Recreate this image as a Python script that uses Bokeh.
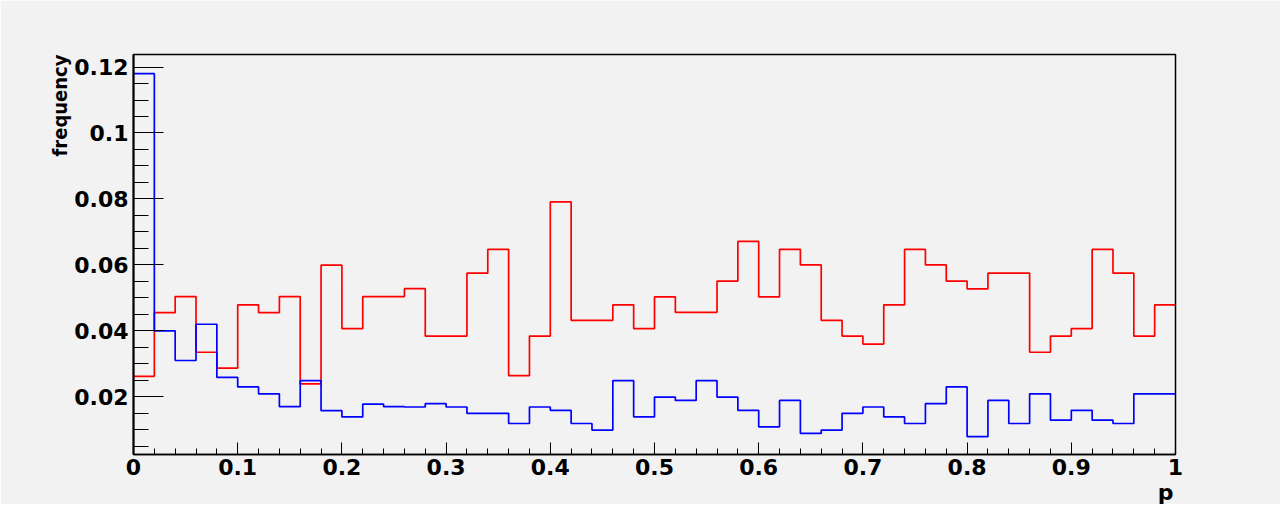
import numpy as np
from bokeh.plotting import figure
from bokeh.models import FixedTicker, Range1d, Title
from bokeh.embed import file_html
from bokeh.resources import INLINE

# ---- data ----
bin_width = 0.02
red_values = [0.0262, 0.0455, 0.0504, 0.0335, 0.0287, 0.0479, 0.0455, 0.0504, 0.0239, 0.0599,
              0.0407, 0.0504, 0.0504, 0.0528, 0.0384, 0.0384, 0.0575, 0.0647, 0.0264, 0.0384,
              0.0791, 0.0432, 0.0432, 0.0479, 0.0407, 0.0503, 0.0456, 0.0456, 0.0551, 0.0671,
              0.0503, 0.0647, 0.0600, 0.0432, 0.0384, 0.0360, 0.0479, 0.0647, 0.0600, 0.0551,
              0.0527, 0.0575, 0.0575, 0.0335, 0.0384, 0.0407, 0.0647, 0.0575, 0.0384, 0.0479]
blue_values = [0.1180, 0.0400, 0.0310, 0.0420, 0.0259, 0.0230, 0.0209, 0.0170, 0.0249, 0.0158,
               0.0139, 0.0178, 0.0170, 0.0169, 0.0179, 0.0169, 0.0150, 0.0150, 0.0119, 0.0169,
               0.0159, 0.0119, 0.0099, 0.0249, 0.0139, 0.0199, 0.0189, 0.0249, 0.0199, 0.0159,
               0.0109, 0.0189, 0.0089, 0.0099, 0.0150, 0.0169, 0.0139, 0.0119, 0.0179, 0.0230,
               0.0079, 0.0189, 0.0119, 0.0209, 0.0129, 0.0159, 0.0129, 0.0119, 0.0209, 0.0209]
x_ticks = [0.0, 0.1, 0.2, 0.3, 0.4, 0.5, 0.6, 0.7, 0.8, 0.9, 1.0]
x_tick_labels = ["0", "0.1", "0.2", "0.3", "0.4", "0.5", "0.6", "0.7", "0.8", "0.9", "1"]
y_ticks = [0.02, 0.04, 0.06, 0.08, 0.1, 0.12]
y_tick_labels = ["0.02", "0.04", "0.06", "0.08", "0.1", "0.12"]
x_title = "p"
y_title = "frequency"

nbins = len(red_values)
edges = np.arange(nbins + 1) * bin_width

BG = "#f2f2f2"
p = figure(width=1280, height=504, output_backend="svg", toolbar_location=None,
           x_range=Range1d(0, 1), y_range=Range1d(0.0025, 0.1238),
           min_border_left=133, min_border_right=105, min_border_top=54, min_border_bottom=41)
p.background_fill_color = BG
p.border_fill_color = BG
p.outline_line_color = "black"
p.outline_line_width = 1.5
p.grid.visible = False

# histograms as step outlines
p.step(edges, list(red_values) + [red_values[-1]], mode="after", line_color="#ff0000", line_width=1.7)
p.step(edges, list(blue_values) + [blue_values[-1]], mode="after", line_color="#0000ff", line_width=1.7)

FONT = "DejaVu Sans"
xa = p.xaxis[0]
xa.ticker = FixedTicker(ticks=x_ticks, minor_ticks=list(np.round(np.arange(0, 1.0001, bin_width), 4)))
xa.major_label_overrides = {t: l for t, l in zip(x_ticks, x_tick_labels)}
xa.major_tick_in = 12
xa.major_tick_out = 0
xa.minor_tick_in = 6
xa.minor_tick_out = 0
xa.axis_line_width = 1.5
xa.major_label_text_font = FONT
xa.major_label_text_font_style = "bold"
xa.major_label_text_font_size = "22px"
xa.major_label_text_color = "black"
xa.major_label_standoff = 4

ya = p.yaxis[0]
ya.ticker = FixedTicker(ticks=y_ticks, minor_ticks=list(np.round(np.arange(0.005, 0.1201, 0.005), 4)))
ya.major_label_overrides = {t: l for t, l in zip(y_ticks, y_tick_labels)}
ya.major_tick_in = 30
ya.major_tick_out = 0
ya.minor_tick_in = 15
ya.minor_tick_out = 0
ya.axis_line_width = 2
ya.major_label_text_font = FONT
ya.major_label_text_font_style = "bold"
ya.major_label_text_font_size = "22px"
ya.major_label_text_color = "black"
ya.major_label_standoff = 5

# ROOT-style axis titles at the end of each axis
p.add_layout(Title(text=x_title, align="right", offset=2, standoff=0,
                   text_font=FONT, text_font_style="bold", text_font_size="22px",
                   text_color="black"), "below")
p.add_layout(Title(text=y_title, align="right", offset=0, standoff=0,
                   text_font="DejaVu Sans Condensed", text_font_style="bold",
                   text_font_size="20px", text_color="black"), "left")

open("out.html", "w").write(file_html(p, INLINE))
